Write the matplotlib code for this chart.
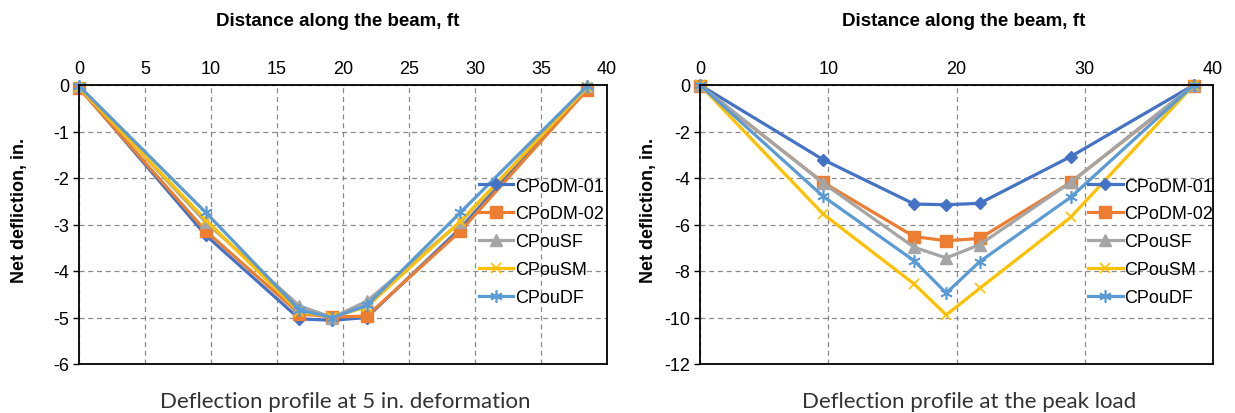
import numpy as np
import matplotlib
matplotlib.use('Agg')
import matplotlib.pyplot as plt

plt.rcParams['font.family'] = ['Liberation Sans', 'DejaVu Sans']
plt.rcParams['axes.unicode_minus'] = False

# measurement stations along the beam, ft
pos = [0, 9.6, 16.7, 19.2, 21.8, 28.9, 38.5]
names = ['CPoDM-01', 'CPoDM-02', 'CPouSF', 'CPouSM', 'CPouDF']

# deflection at 5 in. deformation
def5_dm01 = [-0.05, -3.23, -5.03, -5.06, -5.00, -3.08, -0.05]
def5_dm02 = [-0.07, -3.14, -4.92, -4.99, -4.97, -3.14, -0.10]
def5_usf = [-0.03, -2.95, -4.75, -5.00, -4.65, -2.95, -0.03]
def5_usm = [-0.05, -2.90, -4.88, -4.99, -4.77, -2.93, -0.05]
def5_udf = [-0.02, -2.74, -4.84, -5.00, -4.74, -2.74, -0.02]

# deflection at peak load
pk_dm01 = [0.0, -3.21, -5.12, -5.15, -5.09, -3.08, 0.0]
pk_dm02 = [-0.05, -4.19, -6.52, -6.70, -6.60, -4.19, -0.05]
pk_usf = [0.0, -4.22, -6.98, -7.44, -6.87, -4.19, 0.0]
pk_usm = [0.0, -5.55, -8.56, -9.89, -8.75, -5.69, 0.0]
pk_udf = [0.0, -4.79, -7.56, -8.95, -7.60, -4.83, 0.0]

colors = ['#4472C4', '#ED7D31', '#A5A5A5', '#FFC000', '#5B9BD5']
markers = ['D', 's', '^', 'x', (6, 2, 0)]
msizes = [6, 8.5, 8.5, 7, 9]

W, H = 1235, 414
fig = plt.figure(figsize=(W/100, H/100), dpi=100)

def make_axes(x0, x1, y0, y1):
    return fig.add_axes([x0/W, 1 - y1/H, (x1-x0)/W, (y1-y0)/H])

def style(ax, xt, yt, ymin):
    ax.set_xlim(0, 40)
    ax.set_ylim(ymin, 0)
    ax.set_xticks(xt)
    ax.set_yticks(yt)
    ax.xaxis.tick_top()
    ax.tick_params(axis='x', length=0, labelsize=13, pad=6)
    ax.tick_params(axis='y', direction='out', length=4, width=1, labelsize=13, pad=3)
    ax.grid(True, color='#8a8a8a', linestyle=(0, (4, 3)), linewidth=0.9)
    ax.set_axisbelow(True)
    for s in ax.spines.values():
        s.set_linewidth(1.3)
        s.set_color('black')

def draw(ax, series):
    for vals, nm, c, m, ms in zip(series, names, colors, markers, msizes):
        ax.plot(pos, vals, color=c, lw=2.3, marker=m, ms=ms, mew=1.2 if m in ('x', (6, 2, 0)) else 1,
                label=nm, clip_on=False)
    ax.legend(loc='upper left', bbox_to_anchor=(0.757, 0.668), frameon=False,
              fontsize=13, handlelength=1.9, handletextpad=0.1, labelspacing=0.6,
              borderpad=0, borderaxespad=0)

ax1 = make_axes(79, 607, 86, 365)
draw(ax1, [def5_dm01, def5_dm02, def5_usf, def5_usm, def5_udf])
style(ax1, np.arange(0, 41, 5), np.arange(-6, 1, 1), -6)

ax2 = make_axes(700, 1213, 86, 365)
draw(ax2, [pk_dm01, pk_dm02, pk_usf, pk_usm, pk_udf])
style(ax2, np.arange(0, 41, 10), np.arange(-12, 1, 2), -12)

for xc in (338, 964):
    fig.text(xc/W, 1 - 21/H, 'Distance along the beam, ft', ha='center', va='center',
             fontsize=13.5, fontweight='bold')
for xc in (20, 649):
    fig.text(xc/W, 1 - 210/H, 'Net defliction, in.', ha='center', va='center',
             rotation=90, fontsize=13, fontweight='bold')

fig.text(345/W, 1 - 402/H, 'Deflection profile at 5 in. deformation', ha='center', va='center',
         fontsize=16, color='#333333', family=['Lato', 'DejaVu Sans'])
fig.text(969/W, 1 - 402/H, 'Deflection profile at the peak load', ha='center', va='center',
         fontsize=16, color='#333333', family=['Lato', 'DejaVu Sans'])

fig.savefig('out.png', dpi=100)
